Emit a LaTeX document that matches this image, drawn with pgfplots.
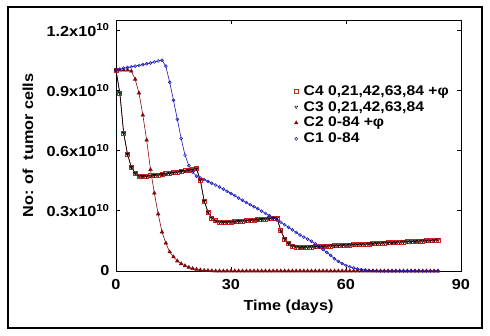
\documentclass[border=0pt]{standalone}
\usepackage{pgfplots}
\pgfplotsset{compat=1.18}
\usepackage{pgfplotstable}
\usepackage{fontspec}
\setmainfont{Liberation Sans}[FakeStretch=1.12]
\definecolor{cblue}{RGB}{20,20,190}
\definecolor{cdred}{RGB}{130,10,10}
\definecolor{cred}{RGB}{205,35,35}

\pgfplotstableread{
day c1 c2 c3
0 1.000 1.000 1.000
1 1.005 1.000 0.886
2 1.010 1.000 0.687
3 1.013 1.000 0.582
4 1.017 0.995 0.517
5 1.020 0.955 0.488
6 1.024 0.886 0.473
7 1.028 0.776 0.471
8 1.032 0.652 0.472
9 1.036 0.505 0.474
10 1.041 0.388 0.476
11 1.046 0.284 0.478
12 1.050 0.194 0.481
13 1.020 0.139 0.484
14 0.940 0.095 0.487
15 0.850 0.070 0.490
16 0.755 0.050 0.493
17 0.660 0.036 0.496
18 0.577 0.026 0.499
19 0.525 0.018 0.502
20 0.493 0.012 0.505
21 0.472 0.008 0.510
22 0.463 0.005 0.453
23 0.455 0.003 0.348
24 0.446 0.002 0.294
25 0.437 0.001 0.264
26 0.428 0.000 0.250
27 0.418 0.000 0.244
28 0.408 0.000 0.242
29 0.397 0.000 0.243
30 0.386 0.000 0.244
31 0.375 0.000 0.246
32 0.363 0.000 0.247
33 0.352 0.000 0.249
34 0.341 0.000 0.251
35 0.330 0.000 0.252
36 0.320 0.000 0.254
37 0.310 0.000 0.256
38 0.298 0.000 0.257
39 0.287 0.000 0.259
40 0.276 0.000 0.261
41 0.265 0.000 0.262
42 0.254 0.000 0.264
43 0.243 0.000 0.200
44 0.230 0.000 0.160
45 0.218 0.000 0.138
46 0.205 0.000 0.125
47 0.192 0.000 0.120
48 0.179 0.000 0.118
49 0.169 0.000 0.118
50 0.159 0.000 0.119
51 0.148 0.000 0.120
52 0.135 0.000 0.121
53 0.121 0.000 0.122
54 0.107 0.000 0.123
55 0.093 0.000 0.124
56 0.078 0.000 0.125
57 0.061 0.000 0.126
58 0.048 0.000 0.127
59 0.037 0.000 0.128
60 0.028 0.000 0.129
61 0.021 0.000 0.130
62 0.015 0.000 0.131
63 0.010 0.000 0.132
64 0.007 0.000 0.133
65 0.005 0.000 0.134
66 0.003 0.000 0.135
67 0.002 0.000 0.137
68 0.001 0.000 0.138
69 0.000 0.000 0.139
70 0.000 0.000 0.140
71 0.000 0.000 0.141
72 0.000 0.000 0.142
73 0.000 0.000 0.143
74 0.000 0.000 0.144
75 0.000 0.000 0.145
76 0.000 0.000 0.146
77 0.000 0.000 0.147
78 0.000 0.000 0.148
79 0.000 0.000 0.149
80 0.000 0.000 0.150
81 0.000 0.000 0.151
82 0.000 0.000 0.152
83 0.000 0.000 0.153
84 0.000 0.000 0.155
}\data

\begin{document}
\begin{tikzpicture}
\useasboundingbox (0,0) rectangle (490pt,336pt);
\draw[line width=1.3pt] (8pt,8pt) rectangle (482pt,329pt);
\begin{axis}[
  at={(116pt,65pt)}, anchor=south west,
  scale only axis, width=345pt, height=251pt,
  xmin=0, xmax=90, ymin=0, ymax=1.25,
  axis line style={line width=0.8pt},
  xtick={0,30,60,90}, xticklabels={0,30,60,90},
  ytick={0,0.3,0.6,0.9,1.2},
  yticklabels={0,0.3x10\textsuperscript{10},0.6x10\textsuperscript{10},0.9x10\textsuperscript{10},1.2x10\textsuperscript{10}},
  tick align=inside, major tick length=4pt,
  tick style={black, line width=0.6pt},
  ticklabel style={font=\bfseries\fontsize{14.5}{16}\selectfont},
  xticklabel style={yshift=-5pt},
  yticklabel style={xshift=-3pt},
  xlabel={Time (days)},
  ylabel={No: of\ \ tumor cells},
  xlabel style={font=\bfseries\fontsize{14.5}{16}\selectfont, at={(axis description cs:0.5,-0.143)}, anchor=center},
  ylabel style={font=\bfseries\fontsize{14.5}{16}\selectfont, at={(axis description cs:-0.255,0.5)}, anchor=center},
  legend cell align=left,
  legend image code/.code={\draw[#1] plot coordinates {(0.15cm,0cm)};},
  legend style={at={(0.516,0.748)}, anchor=north west, draw=none, fill=none,
    font=\bfseries\fontsize{14}{16}\selectfont, row sep=0.6pt, inner sep=0pt,
    /tikz/every odd column/.append style={column sep=3.5pt}},
]
\addplot[forget plot, cdred, line width=0.6pt, mark=square, mark size=2pt, mark options={draw=cred, line width=0.7pt}] table[x=day,y=c3]{\data};
\addplot[forget plot, black, line width=0.6pt, mark=triangle, mark size=1.8pt, mark options={rotate=180, line width=0.6pt}] table[x=day,y=c3]{\data};
\addplot[forget plot, cdred, line width=0.6pt, mark=triangle*, mark size=2pt] table[x=day,y=c2]{\data};
\addplot[forget plot, cblue, line width=0.6pt, mark=o, mark size=1.5pt, mark options={line width=0.5pt}] table[x=day,y=c1]{\data};
\addlegendimage{only marks, mark=square, mark size=2pt, mark options={draw=cred, line width=0.7pt}}
\addlegendentry{C4 0,21,42,63,84 +φ}
\addlegendimage{only marks, black, mark=triangle, mark size=1.8pt, mark options={rotate=180}}
\addlegendentry{C3 0,21,42,63,84}
\addlegendimage{only marks, cdred, mark=triangle*, mark size=2pt}
\addlegendentry{C2 0-84 +φ}
\addlegendimage{only marks, cblue, mark=o, mark size=1.5pt, mark options={draw=cblue, line width=0.6pt}}
\addlegendentry{C1 0-84}
\end{axis}
\end{tikzpicture}
\end{document}
